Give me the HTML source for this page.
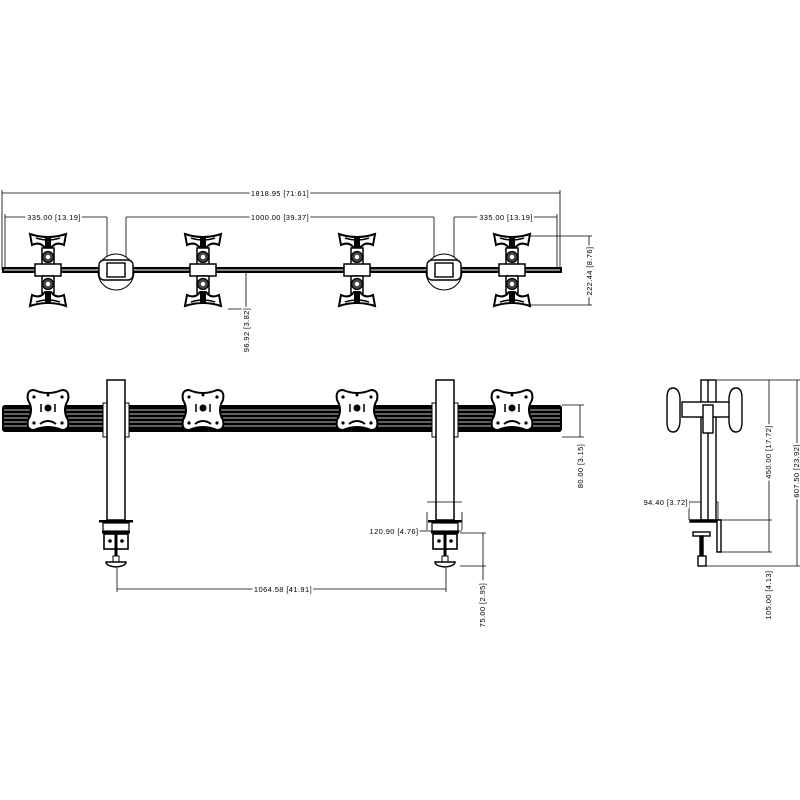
<!DOCTYPE html>
<html><head><style>
html,body{margin:0;padding:0;background:#fff;}
svg{display:block}
text{font-family:"Liberation Sans",sans-serif;font-size:7.5px;letter-spacing:0.4px;fill:#000;paint-order:stroke;stroke:#fff;stroke-width:4px}
</style></head><body>
<svg width="800" height="800" viewBox="0 0 800 800" xmlns="http://www.w3.org/2000/svg">
<defs>
<g id="head">
 <path d="M-18,234 Q0,240 18,234 L16,245 Q8,241 3,248 L-3,248 Q-8,241 -16,245 Z" fill="#fff" stroke="#000" stroke-width="2"/>
 <path d="M-12,238 Q0,242 12,238" stroke="#000" stroke-width="1.5" fill="none"/>
 <rect x="-3" y="236" width="6" height="12" fill="#000"/>
 <rect x="-6" y="248" width="12" height="18" fill="#fff" stroke="#000" stroke-width="1.5"/>
 <circle cx="0" cy="257" r="5.5" fill="#444" stroke="#000" stroke-width="1.2"/>
 <circle cx="0" cy="257" r="2.2" fill="#fff"/>
 <rect x="-13" y="264" width="26" height="12" fill="#fff" stroke="#000" stroke-width="1.5"/>
 <rect x="-6" y="276" width="12" height="17" fill="#fff" stroke="#000" stroke-width="1.5"/>
 <circle cx="0" cy="284" r="5.5" fill="#444" stroke="#000" stroke-width="1.2"/>
 <circle cx="0" cy="284" r="2.2" fill="#fff"/>
 <path d="M-18,306 Q0,300 18,306 L16,295 Q8,299 3,292 L-3,292 Q-8,299 -16,295 Z" fill="#fff" stroke="#000" stroke-width="2"/>
 <path d="M-12,302 Q0,298 12,302" stroke="#000" stroke-width="1.5" fill="none"/>
 <rect x="-3" y="292" width="6" height="12" fill="#000"/>
</g>
<g id="plate">
 <path d="M-14,-20 Q0,-14 14,-20 Q22,-20 20,-10 Q14,0 20,10 Q22,20 14,20 Q0,14 -14,20 Q-22,20 -20,10 Q-14,0 -20,-10 Q-22,-20 -14,-20 Z" fill="#fff" stroke="#000" stroke-width="2"/>
 <circle cx="0" cy="-2" r="3.5" fill="#000"/>
 <circle cx="-14" cy="-13" r="1.6" fill="#000"/><circle cx="14" cy="-13" r="1.6" fill="#000"/>
 <circle cx="-14" cy="13" r="1.6" fill="#000"/><circle cx="14" cy="13" r="1.6" fill="#000"/>
 <circle cx="0" cy="-15" r="1.5" fill="#000"/>
 <path d="M-7,-6 v8 M7,-6 v8" stroke="#000" stroke-width="1.5"/>
 <path d="M-8,14 Q0,8 8,14" stroke="#000" stroke-width="2" fill="none"/>
</g>
<g id="clamp">
 <rect x="-13" y="403" width="26" height="34" fill="#fff" stroke="#000" stroke-width="1"/>
 <rect x="-9" y="380" width="18" height="140" fill="#fff" stroke="#000" stroke-width="1.5"/>
 <rect x="-17" y="520" width="34" height="2.5" fill="#000"/>
 <rect x="-13" y="523" width="26" height="8" fill="#fff" stroke="#000" stroke-width="1.2"/>
 <rect x="-14" y="531" width="28" height="2.5" fill="#000"/>
 <rect x="-12" y="534" width="24" height="15" fill="#fff" stroke="#000" stroke-width="1.6"/>
 <rect x="-1.5" y="534" width="3" height="24" fill="#000"/>
 <circle cx="-6" cy="541" r="1.8" fill="#000"/><circle cx="6" cy="541" r="1.8" fill="#000"/>
 <rect x="-3" y="556" width="6" height="6" fill="#fff" stroke="#000"/>
 <path d="M-10,562 h20 q0,4 -10,5 q-10,-1 -10,-5 z" fill="#fff" stroke="#000" stroke-width="1.5"/>
</g>
</defs>

<g fill="none" stroke="#000" stroke-width="0.8">
 <path d="M2,193 H560 M2,190 V270 M560,190 V270"/>
 <path d="M5,217 H107 M5,214 V268 M107,217 V262"/>
 <path d="M126,217 H434 M126,217 V262 M434,217 V262"/>
 <path d="M454,217 V262 M454,217 H557 M557,214 V268"/>
 <path d="M527,236 H592 M527,305 H592 M589,236 V305"/>
 <path d="M246,272 V310 M228,309 H246"/>
</g>
<text x="280" y="196" text-anchor="middle">1818.95 [71.61]</text>
<text x="54" y="220" text-anchor="middle">335.00 [13.19]</text>
<text x="280" y="220" text-anchor="middle">1000.00 [39.37]</text>
<text x="506" y="220" text-anchor="middle">335.00 [13.19]</text>
<text transform="translate(592,271) rotate(-90)" text-anchor="middle">222.44 [8.76]</text>
<text transform="translate(249,330) rotate(-90)" text-anchor="middle">96.92 [3.82]</text>

<circle cx="116" cy="272" r="18" fill="#fff" stroke="#000"/>
<circle cx="444" cy="272" r="18" fill="#fff" stroke="#000"/>
<rect x="2" y="267" width="560" height="6" fill="#000"/>
<line x1="4" y1="270" x2="560" y2="270" stroke="#fff" stroke-width="1"/>
<rect x="99" y="260" width="34" height="20" rx="5" fill="#fff" stroke="#000" stroke-width="1.4"/>
<rect x="107" y="263" width="18" height="14" fill="#fff" stroke="#000" stroke-width="1.4"/>
<rect x="427" y="260" width="34" height="20" rx="5" fill="#fff" stroke="#000" stroke-width="1.4"/>
<rect x="435" y="263" width="18" height="14" fill="#fff" stroke="#000" stroke-width="1.4"/>
<use href="#head" x="48"/><use href="#head" x="203"/><use href="#head" x="357"/><use href="#head" x="512"/>

<rect x="2" y="405" width="560" height="27" rx="3" fill="#000"/>
<g stroke="#fff" stroke-width="0.8">
 <line x1="4" y1="410" x2="560" y2="410"/><line x1="4" y1="414" x2="560" y2="414"/>
 <line x1="4" y1="418" x2="560" y2="418"/><line x1="4" y1="422" x2="560" y2="422"/>
 <line x1="4" y1="426" x2="560" y2="426"/>
</g>
<use href="#clamp" x="116"/><use href="#clamp" x="445"/>
<use href="#plate" x="48" y="410"/><use href="#plate" x="203" y="410"/><use href="#plate" x="357" y="410"/><use href="#plate" x="512" y="410"/>

<g fill="none" stroke="#000" stroke-width="0.8">
 <path d="M117,568 V592 M446,568 V592 M117,589 H446"/>
 <path d="M427,512 V530 M462,512 V530 M427,502 H462 M392,531 H462"/>
 <path d="M460,533 H486 M460,566 H486 M483,533 V580"/>
 <path d="M562,405 H584 M562,437 H584 M580,405 V437"/>
</g>
<text x="394" y="534" text-anchor="middle">120.90 [4.76]</text>
<text x="283" y="592" text-anchor="middle">1064.58 [41.91]</text>
<text transform="translate(485,605) rotate(-90)" text-anchor="middle">75.00 [2.95]</text>
<text transform="translate(583,466) rotate(-90)" text-anchor="middle">80.00 [3.15]</text>

<g fill="none" stroke="#000" stroke-width="0.8">
 <path d="M717,380 H800 M769,380 V552 M721,520 H772 M720,552 H772"/>
 <path d="M706,566 H800 M797,380 V566"/>
 <path d="M689,502 H718 M689,502 V520 M718,502 V520"/>
</g>
<g fill="#fff" stroke="#000" stroke-width="1.4">
 <rect x="701" y="380" width="15" height="140"/>
 <line x1="708" y1="380" x2="708" y2="520"/>
 <rect x="682" y="402" width="53" height="15"/>
 <rect x="703" y="405" width="10" height="28"/>
 <path d="M673,388 q6,0 7,10 l0,24 q-1,10 -7,10 q-6,0 -6,-10 v-24 q0,-10 6,-10z"/>
 <path d="M736,388 q6,0 6,10 v24 q0,10 -6,10 q-6,0 -7,-10 l0,-24 q1,-10 7,-10z"/>
 <rect x="690" y="520" width="30" height="2" fill="#000"/>
 <path d="M717,520 h4 v32 h-4z"/>
 <rect x="693" y="532" width="17" height="4"/>
 <rect x="700" y="536" width="3" height="20" fill="#000"/>
 <rect x="698" y="556" width="8" height="10"/>
</g>
<text transform="translate(771,452) rotate(-90)" text-anchor="middle">450.00 [17.72]</text>
<text transform="translate(799,471) rotate(-90)" text-anchor="middle">607.50 [23.92]</text>
<text transform="translate(771,595) rotate(-90)" text-anchor="middle">105.00 [4.13]</text>
<text x="688" y="505" text-anchor="end">94.40 [3.72]</text>
</svg>
</body></html>
